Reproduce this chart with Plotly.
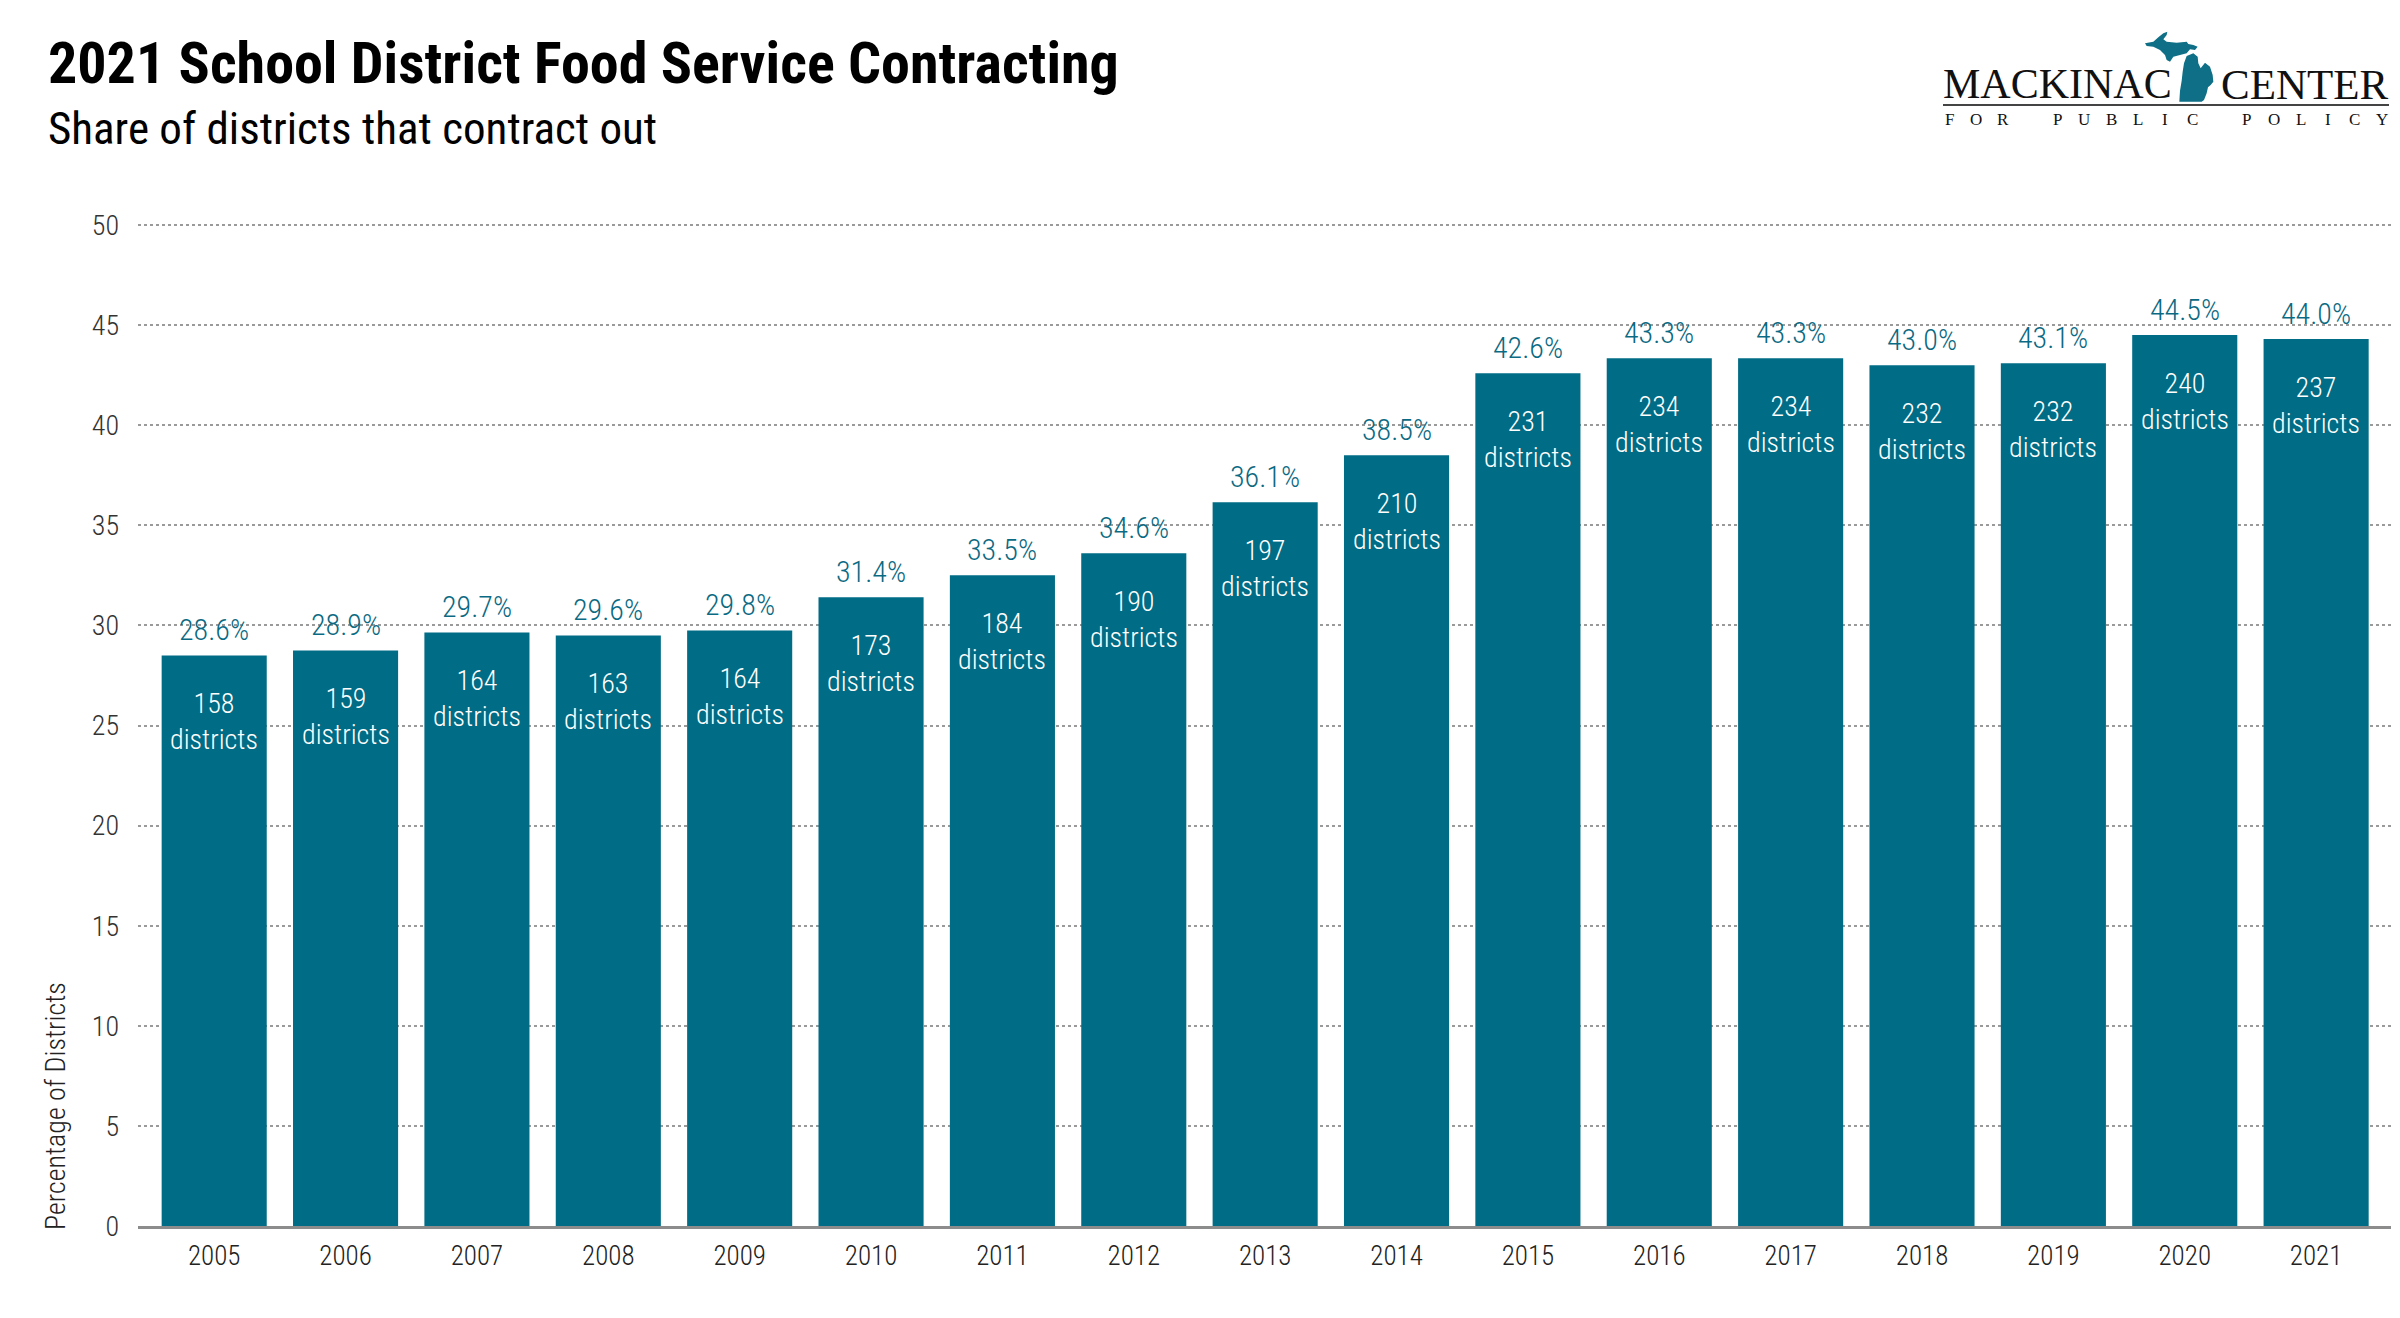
import plotly.graph_objects as go

# ---------------- data ----------------
years = ["2005", "2006", "2007", "2008", "2009", "2010", "2011", "2012", "2013",
         "2014", "2015", "2016", "2017", "2018", "2019", "2020", "2021"]
bar_heights = [28.5, 28.75, 29.65, 29.5, 29.75, 31.4, 32.5, 33.6, 36.15,
               38.5, 42.6, 43.35, 43.35, 43.0, 43.1, 44.5, 44.3]
pct_labels = ["28.6%", "28.9%", "29.7%", "29.6%", "29.8%", "31.4%", "33.5%", "34.6%", "36.1%",
              "38.5%", "42.6%", "43.3%", "43.3%", "43.0%", "43.1%", "44.5%", "44.0%"]
district_counts = [158, 159, 164, 163, 164, 173, 184, 190, 197,
                   210, 231, 234, 234, 232, 232, 240, 237]
y_ticks = [0, 5, 10, 15, 20, 25, 30, 35, 40, 45, 50]

# ---------------- layout constants ----------------
W, H = 2400, 1318
Y_TOP = 50.1
ML, MR, MT, MB = 138, 9, 223, 92
PW = W - ML - MR
PH = H - MT - MB
SANS = "Roboto Condensed, Liberation Sans Narrow, Roboto, sans-serif"
SERIF = "Liberation Serif, Times New Roman, DejaVu Serif, serif"
BAR = "#006c85"
LABEL = "#0b6a83"
LIGHT = 300


def px(x):
    return (x - ML) / PW


def py(y):
    return (H - MB - y) / PH


fig = go.Figure()
fig.add_trace(go.Bar(
    x=years, y=bar_heights, marker=dict(color=BAR, line=dict(width=0)),
    hoverinfo="skip", showlegend=False,
))

annotations = []
for i, (h, pl, dc) in enumerate(zip(bar_heights, pct_labels, district_counts)):
    # category serial number i on the category axis
    annotations.append(dict(x=i, y=h, xref="x", yref="y", text=pl, showarrow=False,
                            yanchor="bottom", yshift=6,
                            font=dict(family=SANS, size=30, color=LABEL, weight=LIGHT)))
    annotations.append(dict(x=i, y=h, xref="x", yref="y", text=f"{dc}<br>districts",
                            showarrow=False, yanchor="top", yshift=-30,
                            font=dict(family=SANS, size=28, color="white", weight=LIGHT)))

# titles
annotations.append(dict(xref="paper", yref="paper", x=px(46), y=py(62.5), xanchor="left",
                        yanchor="middle", showarrow=False,
                        text="<b>2021 School District Food Service Contracting</b>",
                        font=dict(family=SANS, size=58, color="#000000")))
annotations.append(dict(xref="paper", yref="paper", x=px(46), y=py(129), xanchor="left",
                        yanchor="middle", showarrow=False,
                        text="Share of districts that contract out",
                        font=dict(family=SANS, size=45, color="#000000")))
# y axis title (bottom aligned)
annotations.append(dict(xref="paper", yref="paper", x=px(55), y=py(1232), xanchor="center",
                        yanchor="bottom", showarrow=False, textangle=-90,
                        text="Percentage of Districts",
                        font=dict(family=SANS, size=28, color="#222222", weight=LIGHT)))

# logo text
annotations.append(dict(xref="paper", yref="paper", x=px(1941), y=py(84), xanchor="left",
                        yanchor="middle", showarrow=False, text="MACKINAC",
                        font=dict(family=SERIF, size=42, color="#111111")))
annotations.append(dict(xref="paper", yref="paper", x=px(2391), y=py(84), xanchor="right",
                        yanchor="middle", showarrow=False, text="CENTER",
                        font=dict(family=SERIF, size=43, color="#111111")))
tagline = "FOR PUBLIC POLICY"
for i, ch in enumerate(tagline):
    if ch == " ":
        continue
    annotations.append(dict(xref="paper", yref="paper", x=px(1949 + i * 27.06), y=py(119),
                            xanchor="center", yanchor="middle", showarrow=False, text=ch,
                            font=dict(family=SERIF, size=17, color="#111111")))

shapes = [dict(type="line", xref="paper", yref="paper", x0=px(1943), x1=px(2389),
               y0=py(105), y1=py(105), line=dict(color="#444444", width=2))]

# Michigan silhouette for the logo (pixel outline)
up = [(735, 130), (760, 125), (775, 112), (790, 100), (802, 95), (800, 105), (790, 118),
      (800, 125), (830, 128), (860, 125), (865, 132), (880, 135), (893, 140), (885, 150),
      (870, 148), (860, 160), (840, 165), (820, 170), (810, 185), (800, 180), (795, 165),
      (780, 150), (760, 140), (740, 138)]
lp = [(860, 168), (880, 160), (893, 170), (895, 190), (902, 205), (915, 188), (930, 200),
      (938, 225), (940, 245), (932, 255), (924, 262), (920, 280), (912, 300), (905, 305),
      (838, 305), (840, 272), (845, 242), (848, 215), (852, 190)]


def path_of(pts):
    coords = [(px(1900 + a / 3), py(b / 3)) for a, b in pts]
    return "M " + " L ".join(f"{x:.5f},{y:.5f}" for x, y in coords) + " Z"


for poly in (up, lp):
    shapes.append(dict(type="path", xref="paper", yref="paper", path=path_of(poly),
                       fillcolor="#0e6f86", line=dict(width=0)))

fig.update_layout(
    width=W, height=H,
    margin=dict(l=ML, r=MR, t=MT, b=MB, pad=0),
    paper_bgcolor="white", plot_bgcolor="white",
    bargap=0.2,
    annotations=annotations,
    shapes=shapes,
    xaxis=dict(type="category", range=[-0.58, 16.57], showgrid=False, zeroline=False,
               showline=True, linecolor="#8c8c8c", linewidth=3, ticks="",
               tickfont=dict(family=SANS, size=27, color="#222222", weight=LIGHT),
               ticklabelstandoff=4, fixedrange=True),
    yaxis=dict(range=[0, Y_TOP], tickvals=y_ticks, showgrid=True, gridcolor="#9a9a9a",
               gridwidth=2, griddash="dot", zeroline=False, showline=False, ticks="",
               tickfont=dict(family=SANS, size=28, color="#333333", weight=LIGHT),
               ticklabelstandoff=18, fixedrange=True),
    font=dict(family=SANS),
)

fig.write_html("out.html", config={"displayModeBar": False},
               post_script="document.body.style.margin='0';")
